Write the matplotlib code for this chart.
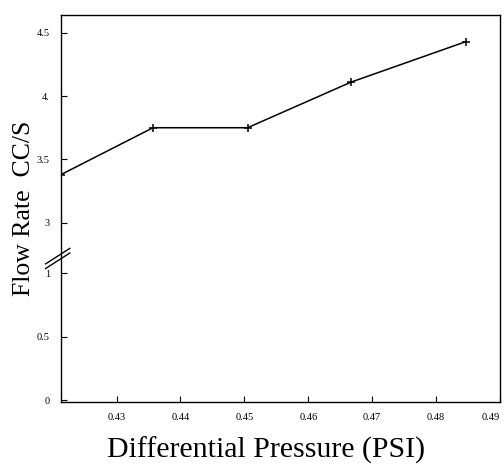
import numpy as np
import matplotlib
matplotlib.use("Agg")
import matplotlib.pyplot as plt

# data
pressure = [0.4213, 0.4357, 0.4505, 0.4667, 0.4847]
flow_rate = [3.38, 3.75, 3.75, 4.11, 4.43]

x_ticks = [0.43, 0.44, 0.45, 0.46, 0.47, 0.48, 0.49]
x_tick_labels = ['0.43', '0.44', '0.45', '0.46', '0.47', '0.48', '0.49']
y_ticks = [0, 0.5, 1, 3, 3.5, 4, 4.5]
y_tick_labels = ['0', '0.5', '1', '3', '3.5', '4.', '4.5']

# broken y axis: 1..3 squeezed into 0.4 units
def fwd(y):
    y = np.asarray(y, dtype=float)
    return np.where(y <= 1, y, np.where(y >= 3, y - 1.6, 1 + (y - 1) * 0.2))

def inv(v):
    v = np.asarray(v, dtype=float)
    return np.where(v <= 1, v, np.where(v >= 1.4, v + 1.6, 1 + (v - 1) / 0.2))

fig = plt.figure(figsize=(5.04, 4.67), dpi=100)
ax = fig.add_axes([0.121, 0.139, 0.871, 0.829])

ax.plot(pressure, flow_rate, color='black', lw=1.1, marker='+', ms=6, mew=1.1)

ax.set_yscale('function', functions=(fwd, inv))
ax.set_ylim(-0.015, 4.64)
ax.set_xlim(0.4213, 0.49)

ax.set_xticks(x_ticks)
ax.set_xticklabels(x_tick_labels, fontsize=7.5, family='Liberation Serif')
ax.get_xticklabels()[-1].set_ha('right')
ax.set_yticks(y_ticks)
ax.set_yticklabels(y_tick_labels, fontsize=7.5, family='Liberation Serif')
ax.yaxis.set_minor_locator(matplotlib.ticker.NullLocator())
ax.tick_params(direction='in', length=4, width=0.8, pad=8)

for s in ax.spines.values():
    s.set_linewidth(1.0)

ax.set_ylabel('Flow Rate  CC/S', fontsize=18.5, family='Liberation Serif', labelpad=1)
ax.set_xlabel('Differential Pressure (PSI)', fontsize=21.5, family='Liberation Serif')
ax.xaxis.set_label_coords(0.468, -0.09)

# axis break marks
for dy in (0, 0.012):
    ax.plot([-0.035, 0.02], [0.345 + dy, 0.385 + dy], transform=ax.transAxes,
            color='black', lw=1.0, clip_on=False)

fig.savefig('out.png', dpi=100)
